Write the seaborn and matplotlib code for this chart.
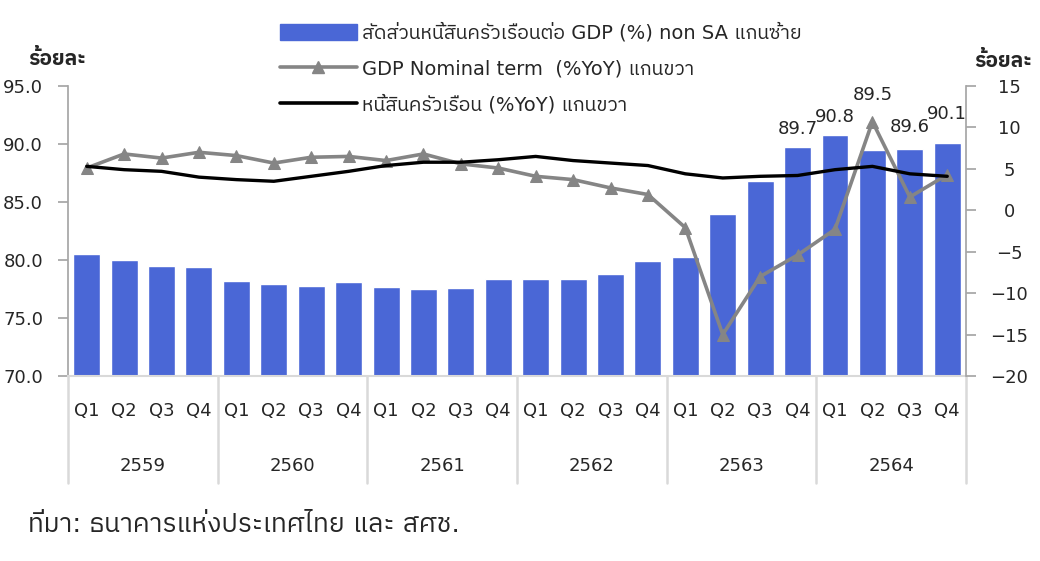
import matplotlib
matplotlib.use("Agg")
import matplotlib.pyplot as plt
import matplotlib.transforms as mtransforms
from matplotlib import font_manager
from matplotlib.lines import Line2D
from matplotlib.patches import Patch
import seaborn as sns
import pandas as pd
import numpy as np

# 1 data
years = ['2559', '2560', '2561', '2562', '2563', '2564']
quarters = ['Q1', 'Q2', 'Q3', 'Q4']
debt_to_gdp = [80.5, 80.0, 79.5, 79.4, 78.2, 77.9, 77.8, 78.1, 77.7, 77.5, 77.6, 78.4,
               78.4, 78.4, 78.8, 79.9, 80.3, 84.0, 86.8, 89.7, 90.8, 89.5, 89.6, 90.1]
gdp_nominal_yoy = [5.1, 6.8, 6.3, 7.0, 6.6, 5.7, 6.4, 6.5, 6.0, 6.8, 5.6, 5.1,
                   4.1, 3.7, 2.7, 1.9, -2.1, -15.0, -8.0, -5.4, -2.3, 10.7, 1.6, 4.3]
hh_debt_yoy = [5.3, 4.9, 4.7, 4.0, 3.7, 3.5, 4.1, 4.7, 5.4, 5.8, 5.8, 6.1,
               6.5, 6.0, 5.7, 5.4, 4.4, 3.9, 4.1, 4.2, 4.9, 5.3, 4.4, 4.1]
labelled_bars = [19, 20, 21, 22, 23]

legend_labels = ['สัดส่วนหนี้สินครัวเรือนต่อ GDP (%) non SA แกนซ้าย',
                 'GDP Nominal term  (%YoY) แกนขวา',
                 'หนี้สินครัวเรือน (%YoY) แกนขวา']
unit_label = 'ร้อยละ'
source_text = 'ที่มา: ธนาคารแห่งประเทศไทย และ สศช.'

df = pd.DataFrame({
    'pos': np.arange(len(debt_to_gdp)),
    'ratio': debt_to_gdp,
    'gdp': gdp_nominal_yoy,
    'debt': hh_debt_yoy,
})

# 2 fonts - look for something with thai glyphs
sns.set_theme(style='white')
thai_fonts = [f.name for f in font_manager.fontManager.ttflist
              if 'Thai' in f.name or f.name in ('Loma', 'Garuda', 'Kinnari', 'Norasi',
                                                'Sawasdee', 'Umpush', 'Waree', 'Tlwg Typo')]
plt.rcParams['font.family'] = ['DejaVu Sans'] + sorted(set(thai_fonts)) + ['Noto Sans']

blue = '#4A67D6'
grey = '#858585'
axis_grey = '#A6A6A6'
sep_grey = '#D9D9D9'
txt = '#262626'

fig = plt.figure(figsize=(10.4, 5.61), dpi=100)
ax = fig.add_axes([0.0654, 0.3298, 0.8634, 0.5169])

sns.barplot(data=df, x='pos', y='ratio', native_scale=True, width=0.72,
            color=blue, saturation=1, ax=ax)
ax.set_ylim(70, 95)
ax.set_yticks(np.arange(70, 95.1, 5))
ax.set_yticklabels([f'{v:.1f}' for v in np.arange(70, 95.1, 5)])
ax.set_xlim(-0.5, len(debt_to_gdp) - 0.5)
ax.set_xticks([])
ax.set_xlabel('')
ax.set_ylabel('')

ax2 = ax.twinx()
sns.lineplot(data=df, x='pos', y='gdp', ax=ax2, color=grey, linewidth=2.6,
             marker='^', markersize=9, markeredgecolor=grey)
sns.lineplot(data=df, x='pos', y='debt', ax=ax2, color='black', linewidth=2.4)
ax2.set_ylim(-20, 15)
ax2.set_yticks(np.arange(-20, 16, 5))
ax2.set_ylabel('')
ax2.set_xlabel('')

for a in (ax, ax2):
    for s in a.spines.values():
        s.set_visible(False)
ax.spines['left'].set_visible(True)
ax.spines['left'].set_color(axis_grey)
ax2.spines['right'].set_visible(True)
ax2.spines['right'].set_color(axis_grey)
ax.spines['bottom'].set_visible(True)
ax.spines['bottom'].set_color(sep_grey)
ax.spines['bottom'].set_linewidth(1.5)
ax.tick_params(axis='y', left=True, length=7, color=axis_grey, pad=11,
               labelsize=13, labelcolor=txt)
ax2.tick_params(axis='y', right=True, length=7, color=axis_grey, pad=24,
                labelsize=13, labelcolor=txt)
for lab in ax2.get_yticklabels():
    lab.set_horizontalalignment('center')

# 3 bar value labels
offsets = {19: 7, 20: 6, 21: 33, 22: 9, 23: 14}
for i in labelled_bars:
    ax.annotate(f'{debt_to_gdp[i]:.1f}', (i, debt_to_gdp[i]), xytext=(0, offsets[i]),
                textcoords='offset points', ha='center', va='bottom',
                fontsize=13, color=txt)

# 4 two level category axis
trans = mtransforms.blended_transform_factory(ax.transData, ax.transAxes)
for i in range(len(debt_to_gdp)):
    ax.text(i, -0.12, quarters[i % 4], transform=trans, ha='center', va='center',
            fontsize=13, color=txt)
for j, yr in enumerate(years):
    ax.text(j * 4 + 1.5, -0.31, yr, transform=trans, ha='center', va='center',
            fontsize=13, color=txt)
for j in range(len(years) + 1):
    ax.plot([j * 4 - 0.5, j * 4 - 0.5], [0, -0.37], transform=trans, color=sep_grey,
            lw=1.8, clip_on=False)

# 5 legend, unit labels, source
handles = [Patch(color=blue),
           Line2D([], [], color=grey, lw=2.6, marker='^', markersize=9),
           Line2D([], [], color='black', lw=2.6)]
fig.legend(handles, legend_labels, loc='upper left', bbox_to_anchor=(0.252, 0.99),
           frameon=False, fontsize=14, handlelength=3.96, handleheight=0.9,
           handletextpad=0.3, labelspacing=0.85, labelcolor=txt)
fig.text(0.027, 0.895, unit_label, fontsize=15, fontweight='bold', color=txt,
         va='center')
fig.text(0.937, 0.891, unit_label, fontsize=15, fontweight='bold', color=txt,
         va='center')
fig.text(0.027, 0.064, source_text, fontsize=19, color=txt, va='center')

fig.savefig('out.png', dpi=100)
